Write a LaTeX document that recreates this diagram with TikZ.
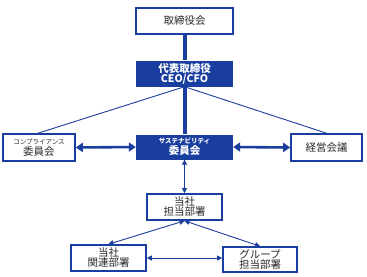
\documentclass[tikz,border=0pt]{standalone}
\usepackage{fontspec}
\newfontfamily\jp{Noto Sans CJK JP}
\usetikzlibrary{arrows.meta}
\definecolor{navy}{RGB}{26,62,160}
\definecolor{txt}{RGB}{40,40,40}
\tikzset{
  wbox/.style={draw=navy,line width=1.6pt,fill=white,inner sep=0pt,align=center,text=txt,font=\jp\fontsize{10.5}{12}\selectfont},
  bbox/.style={fill=navy,inner sep=0pt,align=center,text=white,font=\jp\bfseries\fontsize{10.5}{12}\selectfont},
  thickline/.style={draw=navy,line width=4pt},
  thinline/.style={draw=navy,line width=0.9pt},
  bigarrow/.style={draw=navy,line width=2.6pt,{Triangle[length=7pt,width=9pt]}-{Triangle[length=7pt,width=9pt]}},
  smallarrow/.style={draw=navy,line width=0.9pt,{Triangle[length=5pt,width=5pt]}-{Triangle[length=5pt,width=5pt]}},
}
\begin{document}
\begin{tikzpicture}[x=1pt,y=-1pt]
\useasboundingbox (0,0) rectangle (367,276);
\node[wbox,minimum width=97pt,minimum height=26pt] (board) at (184.5,21) {取締役会};
\node[bbox,minimum width=97pt,minimum height=26pt] (ceo) at (184.5,73.5) {代表取締役\\[-2pt]CEO/CFO};
\node[bbox,minimum width=97pt,minimum height=25pt] (sus) at (184.5,147) {{\fontsize{6.5}{7}\selectfont サステナビリティ}\\[-1pt]委員会};
\node[wbox,minimum width=72pt,minimum height=27pt] (comp) at (39,147.5) {{\fontsize{6.5}{7}\selectfont コンプライアンス}\\[-1pt]委員会};
\node[wbox,minimum width=71pt,minimum height=27pt] (mgmt) at (326.5,147.5) {経営会議};
\node[wbox,minimum width=75pt,minimum height=26pt] (dept) at (184.5,207) {当社\\[-2pt]担当部署};
\node[wbox,minimum width=75pt,minimum height=26pt] (rel) at (108.5,258) {当社\\[-2pt]関連部署};
\node[wbox,minimum width=74pt,minimum height=25pt] (grp) at (260,259.5) {グループ\\[-2pt]担当部署};
\draw[thickline] (board.south) -- (ceo.north);
\draw[thickline] (ceo.south) -- (sus.north);
\draw[thinline] (ceo.south) -- ([xshift=-1pt]comp.north);
\draw[thinline] (ceo.south) -- (mgmt.north);
\draw[bigarrow] (comp.east) -- (sus.west);
\draw[bigarrow] (sus.east) -- (mgmt.west);
\draw[smallarrow] (sus.south) -- (dept.north);
\draw[smallarrow] (dept.south) -- (rel.north);
\draw[smallarrow] (dept.south) -- (grp.north);
\draw[smallarrow] (rel.east) -- (grp.west |- rel.east);
\end{tikzpicture}
\end{document}
